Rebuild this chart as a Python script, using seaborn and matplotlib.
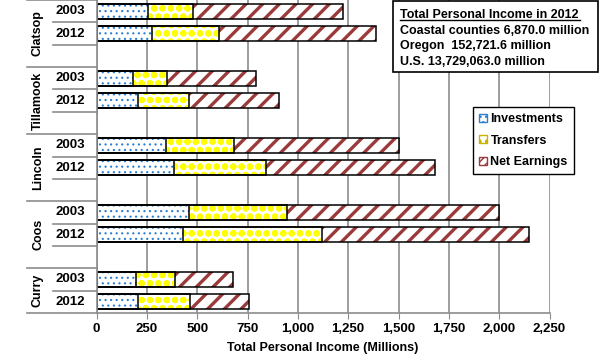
import matplotlib
matplotlib.use("Agg")
import matplotlib.pyplot as plt
from matplotlib.patches import Patch, Rectangle
from matplotlib.ticker import FuncFormatter
import pandas as pd
import seaborn as sns

counties = ["Clatsop", "Tillamook", "Lincoln", "Coos", "Curry"]
years = ["2003", "2012"]
investments_2003 = [256, 179, 343, 460, 197]
investments_2012 = [278, 207, 386, 430, 207]
transfers_2003 = [224, 172, 341, 487, 192]
transfers_2012 = [331, 253, 457, 691, 256]
net_earnings_2003 = [745, 442, 816, 1050, 290]
net_earnings_2012 = [777, 447, 836, 1025, 295]
x_ticks = [0, 250, 500, 750, 1000, 1250, 1500, 1750, 2000, 2250]
box_lines = ["Coastal counties 6,870.0 million",
             "Oregon  152,721.6 million",
             "U.S. 13,729,063.0 million"]

FONT = ["Liberation Sans", "DejaVu Sans"]
BLUE = "#2a7fd0"
YELLOW = "#ffff00"
RED = "#9a3a3a"
GRID = "#8c8c8c"

# one row per county/year, plus an empty slot after each county but the last
rows = []
order = []
for i, c in enumerate(counties):
    for y, inv, tr, net in zip(years,
                               [investments_2003[i], investments_2012[i]],
                               [transfers_2003[i], transfers_2012[i]],
                               [net_earnings_2003[i], net_earnings_2012[i]]):
        rows.append({"slot": c + " " + y, "inv": inv, "tr": tr, "net": net})
        order.append(c + " " + y)
    if i < len(counties) - 1:
        order.append("gap " + c)
df = pd.DataFrame(rows)
df["inv_tr"] = df["inv"] + df["tr"]
df["total"] = df["inv_tr"] + df["net"]

plt.rcParams["font.family"] = FONT
plt.rcParams["font.weight"] = "bold"
plt.rcParams["axes.labelweight"] = "bold"

fig = plt.figure(figsize=(6.02, 3.59), dpi=100)
W, H = 602, 359
ax = fig.add_axes([96.5 / W, 1 - 313 / H, 453 / W, 313 / H])
ax.set_axisbelow(True)

bw = 0.68
layers = [("total", RED, "//", 2.4), ("inv_tr", YELLOW, "oo", 2.2), ("inv", BLUE, "...", 0.8)]
for col, colr, hatch, hlw in layers:
    plt.rcParams["hatch.linewidth"] = hlw
    sns.barplot(data=df, y="slot", x=col, order=order, orient="h", ax=ax,
                color="white", saturation=1, width=bw, hatch=hatch,
                edgecolor=colr, linewidth=0, errorbar=None)
for col in ["total", "inv_tr", "inv"]:
    sns.barplot(data=df, y="slot", x=col, order=order, orient="h", ax=ax,
                fill=False, color="black", width=bw, linewidth=1.1, errorbar=None)

ax.set_xlim(0, 2250)
ax.set_ylim(len(order) - 0.5, -0.5)
ax.set_xticks(x_ticks)
ax.xaxis.set_major_formatter(FuncFormatter(lambda v, p: f"{int(v):,}"))
ax.tick_params(axis="x", length=4, color=GRID, labelsize=9.5, pad=3)
ax.tick_params(axis="y", length=0, labelleft=False)
ax.grid(axis="x", color=GRID, linewidth=1.2)
ax.grid(axis="y", visible=False)
for s in ["top", "right"]:
    ax.spines[s].set_visible(False)
for s in ["left", "bottom"]:
    ax.spines[s].set_color(GRID)
    ax.spines[s].set_linewidth(1.2)
ax.set_ylabel("")
ax.set_xlabel("Total Personal Income (Millions)", fontsize=9, fontweight="bold", labelpad=5)

# multi-level category axis
tr = ax.get_yaxis_transform()
x_short = (53 - 96.5) / 453
x_long = (27 - 96.5) / 453
group_edges = []
start = 0
for i, c in enumerate(counties):
    n = 3 if i < len(counties) - 1 else 2
    group_edges.append((start - 0.5, start + n - 0.5, c))
    start += n
for k in range(len(order) + 1):
    e = k - 0.5
    is_group = any(abs(e - g[0]) < 1e-6 or abs(e - g[1]) < 1e-6 for g in group_edges)
    ax.plot([x_long if is_group else x_short, 0], [e, e], color=GRID, lw=1.2,
            transform=tr, clip_on=False)
for k, name in enumerate(order):
    if not name.startswith("gap"):
        ax.text((70 - 96.5) / 453, k, name.split()[-1], transform=tr, ha="center",
                va="center", fontsize=9.5)
for lo, hi, c in group_edges:
    ax.text((38 - 96.5) / 453, (lo + hi) / 2, c, transform=tr, ha="center",
            va="center", rotation=90, fontsize=9)

# legend
plt.rcParams["hatch.linewidth"] = 1.0
handles = [Patch(facecolor="white", edgecolor=BLUE, hatch="...", label="Investments"),
           Patch(facecolor="white", edgecolor="#c8b400", hatch="oo", label="Transfers"),
           Patch(facecolor="white", edgecolor=RED, hatch="////", label="Net Earnings")]
leg = fig.legend(handles=handles, loc="upper left", bbox_to_anchor=(473 / W, 1 - 107 / H),
                 fancybox=False, edgecolor="black", framealpha=1, fontsize=9,
                 handlelength=0.6, handleheight=0.6, handletextpad=0.3,
                 borderpad=0.5, labelspacing=0.75, borderaxespad=0)
leg.get_frame().set_linewidth(1.0)

# text box
fig.add_artist(Rectangle((392.5 / W, 1 - 72 / H), 205 / W, 71 / H, transform=fig.transFigure,
                         facecolor="white", edgecolor="black", linewidth=1.2))
fig.text(400 / W, 1 - 15 / H, "Total Personal Income in 2012", va="center", fontsize=9)
fig.add_artist(plt.Line2D([400 / W, 580 / W], [1 - 20 / H, 1 - 20 / H], color="black",
                          lw=1.0, transform=fig.transFigure))
for i, line in enumerate(box_lines):
    fig.text(400 / W, 1 - (31 + 15.5 * i) / H, line, va="center", fontsize=9)

fig.savefig("out.png", dpi=100)
